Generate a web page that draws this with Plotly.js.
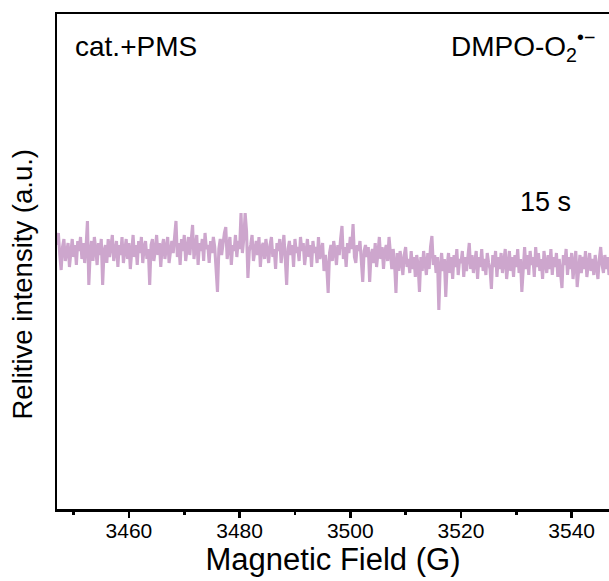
<!DOCTYPE html>
<html>
<head>
<meta charset="utf-8">
<script src="https://cdn.plot.ly/plotly-3.0.1.min.js"></script>
<style>
html,body{margin:0;padding:0;overflow:hidden;background:#fff;}
#chart{width:609px;height:581px;}
</style>
</head>
<body>
<div id="chart"></div>
<script>
// Sweep parameters of the field axis (G)
const fieldStart = 3447;
const fieldStep = 0.25;

// Relative intensity (arbitrary units)
const intensity = [
  14, 26, 4, -11, 12, 20, -2, 10, 16, -8, 6, 20, 2, 14, -6, 18, 8, 22, 0, 16,
  -4, 12, 38, -26, 6, 18, -2, 22, 10, -6, 16, 4, 20, -26, 8, 14, -4, 20, 2, 12,
  24, -2, 10, 18, -8, 14, 4, 22, -4, 12, 20, 0, 16, -10, 8, 24, 2, 14, -6, 18,
  6, 22, -4, 12, 18, 0, 10, -26, 14, 20, -2, 8, 24, 4, 16, -8, 12, 20, 0, 14,
  22, -4, 10, 18, 6, 26, 38, 2, 16, -6, 20, 8, 24, -2, 14, 22, 4, 18, 34, 0,
  12, 24, -6, 16, 8, 20, -2, 26, 10, 14, -4, 18, 6, 22, 12, -8, -33, 10, 20, 4,
  16, 26, 32, 0, 12, 22, -6, 14, 8, 24, 2, 18, 10, 46, 6, 20, 46, 28, -19, 8,
  14, 24, -2, 10, 18, 4, 22, -8, 12, 16, 0, 20, 6, -4, 14, 22, 2, 10, -10, 16,
  8, 20, -4, 12, 24, 0, -26, 10, 18, 4, 14, -8, 20, 6, 12, -2, 22, 8, 16, -6,
  10, 20, 2, 14, -8, 18, 6, 12, -4, 22, 0, 10, 16, -12, 4, -8, -34, 6, 14, -2,
  18, 8, -6, 14, 4, 20, 33, 0, 12, -8, 16, 6, 22, 10, 35, 2, -4, 14, 8, 18,
  -6, -23, 8, 14, 2, 12, -23, 4, 10, -4, 16, -8, 6, 22, 0, 12, -10, 8, 14, -2,
  22, 4, -10, 10, -4, -34, 6, -12, 8, -2, -16, 4, 12, -8, 0, -14, 8, -10, 2, -18,
  4, -6, -33, 2, -12, 8, -4, -16, 6, -10, 12, 23, -6, 4, -14, 2, -51, -8, 6, -12,
  0, -38, -6, 6, -14, 2, -20, 4, -8, 10, -16, 0, -4, 8, -18, 2, -12, 6, 16, -10,
  4, -14, -2, 8, -20, 2, -8, 10, -12, 0, -16, 6, -4, -10, -30, 4, -8, 8, -18, 2,
  -10, 6, -14, 0, 10, -20, -6, 8, -12, 2, -18, 4, -8, 10, -14, 0, -33, -4, 12, -10,
  4, -16, 8, -6, 2, -18, 12, -8, 6, -12, 0, -20, 8, -4, -14, 4, -10, 10, -16, 2,
  -8, 6, -18, 0, -12, -29, 4, -6, 10, -16, 2, -10, 6, -20, -4, 8, -28, -8, 4, -14,
  2, -10, 8, -18, -4, 6, -12, 0, -16, 4, -8, -20, 0, 12, -6, -14, 4, -10, 2, -16,
  -6
];

const field = intensity.map((_, i) => fieldStart + i * fieldStep);

const xTickVals = [3460, 3480, 3500, 3520, 3540];
const xTickText = ['3460', '3480', '3500', '3520', '3540'];

const FONT = 'Liberation Sans, Arial, Helvetica, sans-serif';

const trace = {
  x: field,
  y: intensity,
  type: 'scatter',
  mode: 'lines',
  line: {color: '#CDA6CD', width: 3.1},
  hoverinfo: 'skip'
};

const layout = {
  width: 609,
  height: 581,
  margin: {l: 57, r: 0, t: 14, b: 72},
  paper_bgcolor: '#ffffff',
  plot_bgcolor: '#ffffff',
  showlegend: false,
  font: {family: FONT, color: '#000000'},
  xaxis: {
    range: [3447, 3546.75],
    tickmode: 'array',
    tickvals: xTickVals,
    ticktext: xTickText,
    ticks: 'outside',
    ticklen: 6,
    tickwidth: 2.5,
    tickcolor: '#000',
    ticklabelstandoff: -5,
    minor: {dtick: 10, tick0: 3450, ticks: 'outside', ticklen: 3, tickwidth: 2.5, tickcolor: '#000', showgrid: false},
    showline: true,
    linewidth: 2.5,
    linecolor: '#000',
    mirror: true,
    showgrid: false,
    zeroline: false,
    tickfont: {family: FONT, size: 21, color: '#000'},
    title: {text: 'Magnetic Field (G)', font: {family: FONT, size: 31, color: '#000'}, standoff: 3}
  },
  yaxis: {
    range: [-250, 245],
    showline: true,
    linewidth: 2.5,
    linecolor: '#000',
    mirror: false,
    ticks: '',
    showticklabels: false,
    showgrid: false,
    zeroline: false
  },
  annotations: [
    {text: 'Relitive intensity (a.u.)', textangle: -90, xref: 'paper', yref: 'paper', x: -0.0625, y: 0.4545, xanchor: 'center', yanchor: 'middle', showarrow: false, font: {family: FONT, size: 27.5, color: '#000'}},
    {text: 'cat.+PMS', xref: 'paper', yref: 'paper', x: 0.029, y: 0.935, xanchor: 'left', yanchor: 'middle', showarrow: false, font: {family: FONT, size: 28, color: '#000'}},
    {text: 'DMPO-O<sub>2</sub><sup>•−</sup>', xref: 'paper', yref: 'paper', x: 0.7105, y: 0.935, xanchor: 'left', yanchor: 'middle', showarrow: false, font: {family: FONT, size: 28, color: '#000'}},
    {text: '15 s', xref: 'paper', yref: 'paper', x: 0.836, y: 0.62, xanchor: 'left', yanchor: 'middle', showarrow: false, font: {family: FONT, size: 27, color: '#000'}}
  ]
};

Plotly.newPlot('chart', [trace], layout, {staticPlot: true, displayModeBar: false});
</script>
</body>
</html>
